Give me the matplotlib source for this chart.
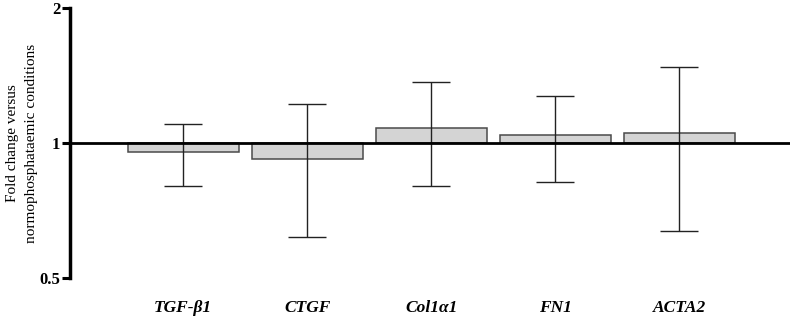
import numpy as np
import matplotlib
matplotlib.use("Agg")
import matplotlib.pyplot as plt
from matplotlib.ticker import FixedLocator, NullLocator

plt.rcParams["font.family"] = ["Liberation Serif", "DejaVu Serif"]

# fold change vs normophosphataemic conditions
genes    = ["TGF-β1", "CTGF", "Col1α1", "FN1", "ACTA2"]
fold     = [0.955, 0.921, 1.080, 1.044, 1.053]
err_high = [1.10, 1.22, 1.37, 1.275, 1.474]
err_low  = [0.80, 0.617, 0.80, 0.82, 0.635]
y_ticks  = [0.5, 1, 2]
y_tick_labels = ["0.5", "1", "2"]

fig = plt.figure(figsize=(7.95, 3.2), dpi=100)
ax = fig.add_axes([70 / 795, 1 - 278 / 320, 720 / 795, 270 / 320])

x = np.arange(len(genes))
fold = np.array(fold)
lo = fold - np.array(err_low)
hi = np.array(err_high) - fold

ax.bar(x, fold - 1, bottom=1, width=0.895, color="#d4d4d4",
       edgecolor="#4a4a4a", linewidth=1.1, zorder=2)
ax.errorbar(x, fold, yerr=[lo, hi], fmt="none", ecolor="#222222",
            elinewidth=1.0, capsize=14, capthick=1.0, zorder=3)
ax.axhline(1, color="black", lw=2.0, zorder=4)

ax.set_yscale("log", base=2)
ax.set_ylim(0.5, 2)
ax.set_xlim(-0.914, 4.895)
ax.yaxis.set_major_locator(FixedLocator(y_ticks))
ax.yaxis.set_minor_locator(NullLocator())
ax.set_yticklabels(y_tick_labels, fontsize=12, fontweight="bold")
ax.tick_params(axis="y", direction="out", length=6, width=2.2, pad=1)

for side in ["top", "right", "bottom"]:
    ax.spines[side].set_visible(False)
ax.spines["left"].set_linewidth(2.5)

ax.set_xticks(x)
ax.set_xticklabels(genes, fontsize=12.5, fontweight="bold", fontstyle="italic")
ax.tick_params(axis="x", length=0, pad=16)

ax.set_ylabel("Fold change versus\nnormophosphataemic conditions", fontsize=11,
              linespacing=1.6, labelpad=1)

fig.savefig("out.png", dpi=100)
